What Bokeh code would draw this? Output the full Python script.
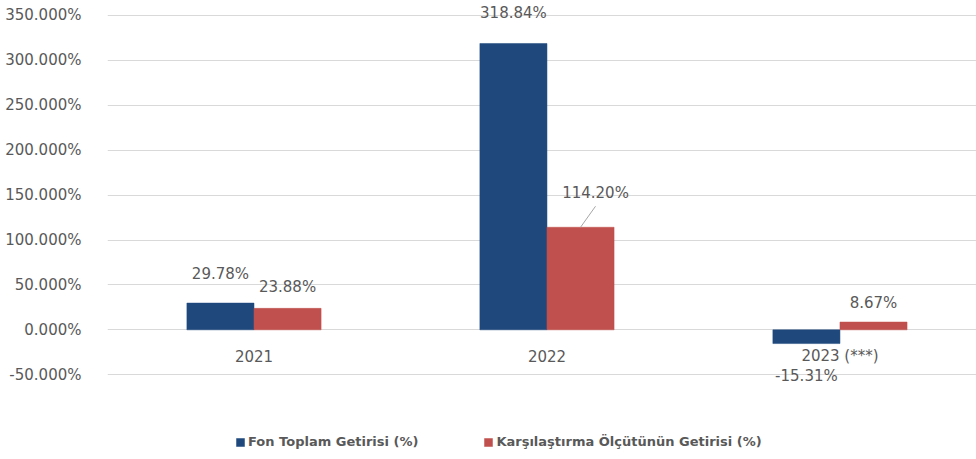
from bokeh.plotting import figure
from bokeh.models import Range1d, FixedTicker, PrintfTickFormatter, Legend, LegendItem, ColumnDataSource
from bokeh.core.properties import value
from bokeh.embed import file_html
from bokeh.resources import INLINE

# ---- data ----
categories = ["2021", "2022", "2023 (***)"]
fon_getiri = [29.78, 318.84, -15.31]
olcut_getiri = [23.88, 114.20, 8.67]
series_names = ["Fon Toplam Getirisi (%)", "Karşılaştırma Ölçütünün Getirisi (%)"]
y_ticks = [-50, 0, 50, 100, 150, 200, 250, 300, 350]

# ---- styling / layout ----
BLUE = "#1F497D"
RED = "#C0504D"
TXT = "#595959"
FONT = "DejaVu Sans"
W, H = 976, 459
LEFT = 107
Y0, Y1 = -144.4, 366.7
X0, X1 = 0.0, 2.966
BAR_W = 0.229
# per-label pixel offsets (dx, dy; dy positive = down), mimicking Excel's manual label placement
fon_label_off = [(0, -29), (0, -30), (0, 32)]
olc_label_off = [(0, -21), (15, -34), (0, -19)]

px_per_y = H / (Y1 - Y0)
px_per_x = (W - LEFT) / (X1 - X0)

xc = [i + 0.5 for i in range(len(categories))]
x_fon = [x - BAR_W / 2 for x in xc]
x_olc = [x + BAR_W / 2 for x in xc]

p = figure(width=W, height=H, output_backend="svg", toolbar_location=None,
           x_range=Range1d(X0, X1), y_range=Range1d(Y0, Y1), x_axis_type=None,
           min_border_left=LEFT, min_border_right=0, min_border_top=0, min_border_bottom=0)
p.outline_line_color = None
p.background_fill_color = "white"
p.border_fill_color = "white"

# grid
p.xgrid.visible = False
p.ygrid.ticker = FixedTicker(ticks=y_ticks)
p.ygrid.grid_line_color = "#d9d9d9"
p.ygrid.grid_line_width = 1

# y axis
ax = p.yaxis[0]
ax.ticker = FixedTicker(ticks=y_ticks)
ax.formatter = PrintfTickFormatter(format="%.3f%%")
ax.axis_line_color = None
ax.major_tick_line_color = None
ax.minor_tick_line_color = None
ax.major_label_text_font = FONT
ax.major_label_text_font_size = "15px"
ax.major_label_text_color = TXT
ax.major_label_standoff = 20

# bars
src_f = ColumnDataSource(dict(x=x_fon, top=fon_getiri))
src_o = ColumnDataSource(dict(x=x_olc, top=olcut_getiri))
r_f = p.vbar(x="x", top="top", bottom=0, width=BAR_W, source=src_f, fill_color=BLUE, line_color=BLUE, line_width=0.5)
r_o = p.vbar(x="x", top="top", bottom=0, width=BAR_W, source=src_o, fill_color=RED, line_color=RED, line_width=0.5)

# data labels
def labels(xs, vals, offs):
    src = ColumnDataSource(dict(x=xs, y=vals,
                                t=[f"{v:.2f}%" for v in vals],
                                dx=[o[0] for o in offs], dy=[o[1] for o in offs]))
    p.text(x="x", y="y", text="t", x_offset="dx", y_offset="dy", source=src,
           text_align="center", text_baseline="middle", text_font=value(FONT),
           text_font_size="15px", text_color=TXT)

labels(x_fon, fon_getiri, fon_label_off)
labels(x_olc, olcut_getiri, olc_label_off)

# leader line for the shifted label (2022 benchmark)
i = 1
lx0, ly0 = x_olc[i], olcut_getiri[i]
lx1 = lx0 + olc_label_off[i][0] / px_per_x
ly1 = ly0 + 21 / px_per_y
p.segment(x0=[lx0], y0=[ly0], x1=[lx1], y1=[ly1], line_color="#a6a6a6", line_width=1)

# category labels just below zero line
p.text(x=xc, y=[0] * len(xc), text=categories, y_offset=26,
       text_align="center", text_baseline="middle", text_font=value(FONT),
       text_font_size="15px", text_color=TXT)

# legend
legend = Legend(items=[LegendItem(label=series_names[0], renderers=[r_f]),
                       LegendItem(label=series_names[1], renderers=[r_o])],
                orientation="horizontal", location=(128, 10),
                glyph_width=10, glyph_height=10, label_standoff=3, spacing=65,
                padding=0, margin=0, border_line_color=None, background_fill_alpha=0,
                label_text_font="DejaVu Sans", label_text_font_style="bold",
                label_text_font_size="13px", label_text_color=TXT)
p.add_layout(legend, "center")

open("out.html", "w").write(file_html(p, INLINE))
